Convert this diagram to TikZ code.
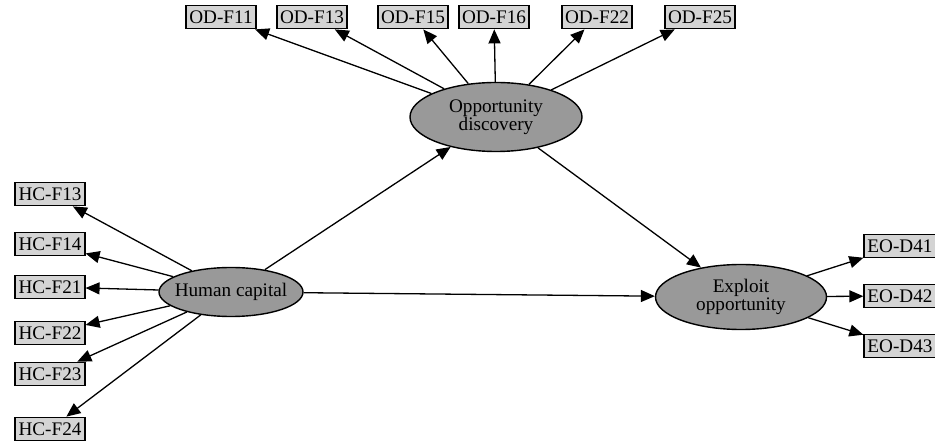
\documentclass[tikz,border=0pt]{standalone}
\usepackage{fontspec}
\setmainfont{Liberation Serif}
\usepackage{tikz}
\usetikzlibrary{shapes.geometric,arrows.meta}

\begin{document}
\begin{tikzpicture}[x=0.5pt,y=-0.5pt,
  lv/.style={ellipse,draw,line width=0.7pt,fill=black!40,inner sep=0pt},
  lvtext/.style={align=center,font=\fontsize{9.6}{9}\selectfont},
  ind/.style={rectangle,draw,line width=0.9pt,fill=black!17,inner xsep=1.6pt,inner ysep=0pt,
    minimum height=11.5pt,font=\fontsize{9.6}{9}\selectfont},
  path/.style={line width=0.65pt,-{Triangle[length=7pt,width=6pt]}}]

  \useasboundingbox (0,0) rectangle (935,442);

  % latent variables
  \node[lv,minimum width=86pt,minimum height=34.5pt,
    label={[lvtext]center:Opportunity\\discovery}] (od) at (496,117) {};
  \node[lv,minimum width=72pt,minimum height=24.5pt,
    label={[lvtext]center:Human capital}] (hc) at (231,292) {};
  \node[lv,minimum width=85.5pt,minimum height=32.5pt,
    label={[lvtext]center:Exploit\\opportunity}] (eo) at (741,297) {};

  % indicators
  \node[ind] (odf11) at (221,17) {OD-F11};
  \node[ind] (odf13) at (312,17) {OD-F13};
  \node[ind] (odf15) at (413,17) {OD-F15};
  \node[ind] (odf16) at (494,17) {OD-F16};
  \node[ind] (odf22) at (597,17) {OD-F22};
  \node[ind] (odf25) at (700,17) {OD-F25};

  \node[ind] (hcf13) at (50,194) {HC-F13};
  \node[ind] (hcf14) at (50,244) {HC-F14};
  \node[ind] (hcf21) at (50,287) {HC-F21};
  \node[ind] (hcf22) at (50,333) {HC-F22};
  \node[ind] (hcf23) at (50,374) {HC-F23};
  \node[ind] (hcf24) at (50,429) {HC-F24};

  \node[ind] (eod41) at (900,246) {EO-D41};
  \node[ind] (eod42) at (900,296) {EO-D42};
  \node[ind] (eod43) at (900,346) {EO-D43};

  % structural paths
  \draw[path] (hc) -- (od);
  \draw[path] (hc) -- (eo);
  \draw[path] (od) -- (eo);

  % loadings
  \draw[path] (od) -- (odf11);
  \draw[path] (od) -- (odf13);
  \draw[path] (od) -- (odf15);
  \draw[path] (od) -- (odf16);
  \draw[path] (od) -- (odf22);
  \draw[path] (od) -- (odf25);

  \draw[path] (hc) -- (hcf13);
  \draw[path] (hc) -- (hcf14);
  \draw[path] (hc) -- (hcf21);
  \draw[path] (hc) -- (hcf22);
  \draw[path] (hc) -- (hcf23);
  \draw[path] (hc) -- (hcf24);

  \draw[path] (eo) -- (eod41);
  \draw[path] (eo) -- (eod42);
  \draw[path] (eo) -- (eod43);
\end{tikzpicture}
\end{document}
